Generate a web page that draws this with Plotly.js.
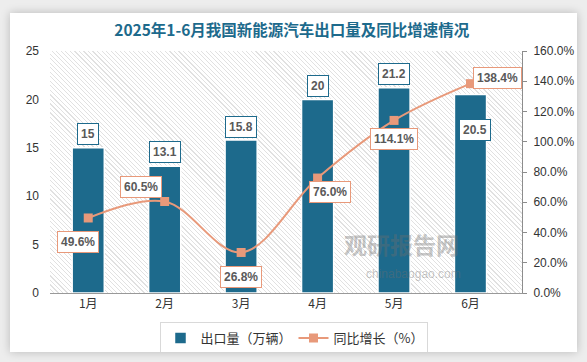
<!DOCTYPE html>
<html><head><meta charset="utf-8">
<script src="https://cdn.plot.ly/plotly-3.0.1.min.js"></script>
<style>
html,body{margin:0;padding:0;background:#ededed;width:587px;height:362px;overflow:hidden;}
#card{position:absolute;left:10px;top:13px;width:567px;height:339px;background:#fff;box-shadow:0 0 9px rgba(0,0,0,0.22);}
#hatch{position:absolute;left:40px;top:38px;width:472px;height:242px;
  background:repeating-linear-gradient(45deg,#ffffff 0px,#ffffff 2.4px,#e1e1e1 2.4px,#e1e1e1 3.2px);}
#chart{position:absolute;left:0;top:0;width:567px;height:339px;}
</style></head>
<body><div id="card"><div id="hatch"></div><div id="chart"></div></div>
<script>
const months = ['1月','2月','3月','4月','5月','6月'];
const exportVolume = [15, 13.1, 15.8, 20, 21.2, 20.5];
const yoyGrowth = [49.6, 60.5, 26.8, 76.0, 114.1, 138.4];
const leftTicks = [0,5,10,15,20,25];
const rightTicks = [0,20,40,60,80,100,120,140,160];

const blue = '#1d6a8c';
const orange = '#e8997a';
const CJK = '"Noto Sans CJK SC", "Liberation Sans", sans-serif';
const NUM = '"Liberation Sans", "Noto Sans CJK SC", sans-serif';

const barShift = [[0,14],[0,14],[0,13],[0,13],[0,14],[4,-35]];
const lineShift = [[-10,-24],[-24,14],[0,-25],[12,-14],[0,-19],[27,6]];

const traces = [
  {type:'bar', name:'出口量（万辆）', x:months, y:exportVolume, yaxis:'y',
   width:0.42, marker:{color:blue, line:{color:'#ffffff', width:1.5}}, hoverinfo:'skip'},
  {type:'scatter', mode:'lines+markers', name:'同比增长（%）', x:months, y:yoyGrowth, yaxis:'y2',
   line:{color:orange, width:2, shape:'spline', smoothing:1},
   marker:{symbol:'square', size:9, color:orange}, hoverinfo:'skip'}
];

const annotations = [];
months.forEach((m,i)=>{
  annotations.push({x:m, y:exportVolume[i], xref:'x', yref:'y', text:String(exportVolume[i]),
    showarrow:false, xshift:barShift[i][0], yshift:barShift[i][1],
    font:{family:NUM, size:12, color:'#595959', weight:'bold'},
    bgcolor:'#ffffff', bordercolor:blue, borderwidth:1, borderpad:3});
  annotations.push({x:m, y:yoyGrowth[i], xref:'x', yref:'y2', text:yoyGrowth[i].toFixed(1)+'%',
    showarrow:false, xshift:lineShift[i][0], yshift:lineShift[i][1],
    font:{family:NUM, size:12, color:'#595959', weight:'bold'},
    bgcolor:'#ffffff', bordercolor:orange, borderwidth:1, borderpad:3});
});
annotations.push({xref:'paper', yref:'paper', x:0.87, y:0.125, text:'<b>观研报告网</b>', showarrow:false,
  font:{family:CJK, size:23, color:'rgba(110,110,110,0.4)'}});
annotations.push({xref:'paper', yref:'paper', x:0.875, y:0.04, text:'chinabaogao.com', showarrow:false,
  font:{family:NUM, size:12, color:'rgba(110,110,110,0.4)'}});

const layout = {
  width:567, height:339,
  margin:{l:40, r:55, t:38, b:59},
  paper_bgcolor:'rgba(0,0,0,0)', plot_bgcolor:'rgba(0,0,0,0)',
  title:{text:'<b>2025年1-6月我国新能源汽车出口量及同比增速情况</b>', x:0.497, xref:'container', xanchor:'center',
    y:0.947, yref:'container', yanchor:'middle',
    font:{family:CJK, size:15.5, color:blue}},
  xaxis:{type:'category', showgrid:false, zeroline:false, showline:true, linecolor:'#999999', linewidth:1,
    ticks:'', tickfont:{family:CJK, size:12, color:'#333333'}},
  yaxis:{range:[0,25], tickvals:leftTicks, showgrid:false, zeroline:false, showline:false, ticks:'',
    ticklabelstandoff:10, tickfont:{family:NUM, size:12, color:'#333333'}},
  yaxis2:{range:[0,160], tickvals:rightTicks, ticktext:rightTicks.map(v=>v.toFixed(1)+'%'),
    overlaying:'y', side:'right', showgrid:false, zeroline:false, showline:true, linecolor:'#8c8c8c', linewidth:1,
    ticks:'outside', ticklen:4, tickcolor:'#8c8c8c', ticklabelstandoff:4,
    tickfont:{family:NUM, size:12, color:'#333333'}},
  showlegend:true,
  legend:{orientation:'h', xref:'container', x:0.5, xanchor:'center', yref:'container', y:0.088, yanchor:'top',
    bordercolor:'#d9d9d9', borderwidth:1, bgcolor:'#ffffff',
    font:{family:CJK, size:13, color:'#333333'}, itemwidth:30, entrywidth:88},
  annotations:annotations
};

Plotly.newPlot('chart', traces, layout, {staticPlot:true, displayModeBar:false});
</script></body></html>
